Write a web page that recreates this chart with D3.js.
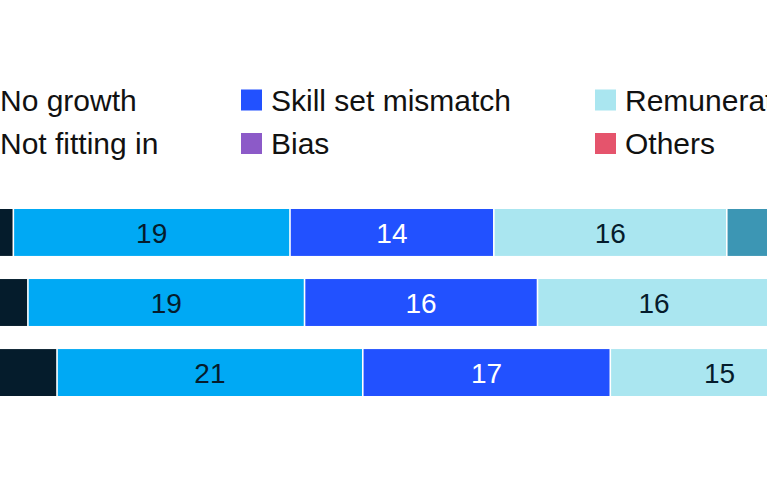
<!DOCTYPE html>
<html>
<head>
<meta charset="utf-8">
<script src="https://cdn.jsdelivr.net/npm/d3@7"></script>
<style>
  html, body { margin: 0; padding: 0; background: #fff; overflow: hidden; }
  svg { display: block; font-family: "Liberation Sans", Arial, sans-serif; }
</style>
</head>
<body>
<svg width="767" height="480"></svg>
<script>
// rows of the chart (their labels sit off to the left of this crop)
const groups = ['Group 1', 'Group 2', 'Group 3'];

// stack order, left to right
const reasons = ['Leadership', 'No growth', 'Skill set mismatch', 'Remuneration',
  'Work-life balance', 'Not fitting in', 'Bias', 'Others'];
const colors = ['#051c2c', '#00a9f4', '#2251ff', '#aae6f0',
  '#3c96b4', '#99c4d8', '#8c5ac8', '#e5546c'];

// share of respondents, %, one array per reason (Group 1, 2, 3)
const leadership = [9, 10, 12];
const noGrowth = [19, 19, 21];
const skillMismatch = [14, 16, 17];
const remuneration = [16, 16, 15];
const workLife = [12, 11, 10];
const notFitting = [10, 10, 9];
const bias = [8, 7, 7];
const others = [12, 11, 9];

// legend, laid out in two rows
const legendRow1 = ['No growth', 'Skill set mismatch', 'Remuneration'];
const legendRow2 = ['Not fitting in', 'Bias', 'Others'];

const series = [leadership, noGrowth, skillMismatch, remuneration, workLife, notFitting, bias, others];
const table = groups.map((g, i) => {
  const row = { group: g };
  reasons.forEach((r, k) => { row[r] = series[k][i]; });
  return row;
});

const W = 767;
const svg = d3.select('svg');
const color = d3.scaleOrdinal().domain(reasons).range(colors);
const darkFill = ['Leadership', 'Skill set mismatch', 'Work-life balance', 'Bias', 'Others'];

// the chart is wider than the window, so 0 falls left of the edge
const x = d3.scaleLinear().domain([0, 100]).range([-117.7, 1338.3]);
const y = d3.scaleBand().domain(groups).range([209, 396]).paddingInner(0.33);

const stacked = d3.stack().keys(reasons)(table);

const layer = svg.append('g')
  .selectAll('g')
  .data(stacked)
  .join('g')
  .attr('fill', d => color(d.key));

layer.selectAll('rect')
  .data(d => d)
  .join('rect')
  .attr('x', d => x(d[0]) + 0.8)
  .attr('y', d => y(d.data.group))
  .attr('width', d => x(d[1]) - x(d[0]) - 1.6)
  .attr('height', y.bandwidth());

// value labels, only for segments whose middle is inside the window
layer.selectAll('text')
  .data(d => d.map(v => Object.assign(v, { key: d.key }))
    .filter(v => {
      const cx = (x(v[0]) + x(v[1])) / 2;
      return cx > 0 && cx < W;
    }))
  .join('text')
  .attr('x', d => (x(d[0]) + x(d[1])) / 2)
  .attr('y', d => y(d.data.group) + y.bandwidth() / 2)
  .attr('dy', '0.36em')
  .attr('text-anchor', 'middle')
  .attr('font-size', 28)
  .attr('fill', d => darkFill.includes(d.key) ? '#fff' : '#051c2c')
  .text(d => d[1] - d[0]);

// legend
const legendCols = [-30, 241, 595];
const legendRows = [100, 143.5];
const legend = svg.append('g');
[legendRow1, legendRow2].forEach((row, r) => {
  row.forEach((name, c) => {
    const item = legend.append('g')
      .attr('transform', `translate(${legendCols[c]}, ${legendRows[r]})`);
    item.append('rect')
      .attr('x', 0).attr('y', -10.5)
      .attr('width', 21).attr('height', 21)
      .attr('fill', color(name));
    item.append('text')
      .attr('x', 30)
      .attr('dy', '0.35em')
      .attr('font-size', 30)
      .attr('fill', '#111')
      .text(name);
  });
});
</script>
</body>
</html>
